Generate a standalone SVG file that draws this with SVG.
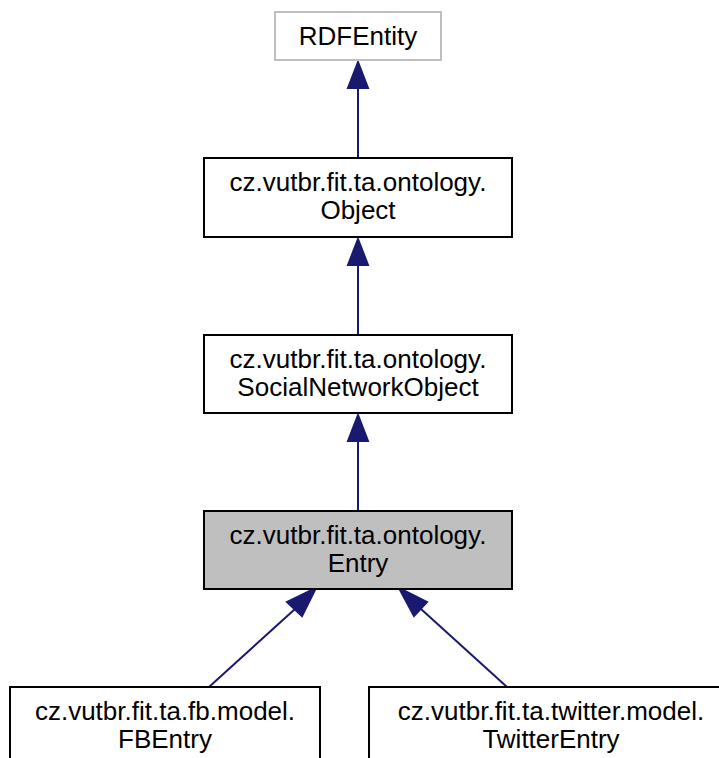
<svg xmlns="http://www.w3.org/2000/svg" width="719" height="758" viewBox="0 0 719 758">
<style>
.box{fill:#fff;stroke:#000;stroke-width:2}
.gbox{fill:#fff;stroke:#bfbfbf;stroke-width:2}
.sel{fill:#bfbfbf;stroke:#000;stroke-width:2}
.lbl{font-family:"Liberation Sans",Arial,sans-serif;font-size:26px;fill:#000;text-anchor:middle}
.edge{stroke:#191970;stroke-width:2;fill:none}
.head{fill:#191970;stroke:#191970;stroke-width:2}
</style>
<rect width="719" height="758" fill="#fff"/>
<g id="connectors">
<path class="edge" d="M358,88 V158"/>
<polygon class="head" points="358,62 348,88 368,88"/>
<path class="edge" d="M358,265 V335"/>
<polygon class="head" points="358,239 348,265 368,265"/>
<path class="edge" d="M358,441 V511"/>
<polygon class="head" points="358,415 348,441 368,441"/>
<path class="edge" d="M295,609 L209,687"/>
<polygon class="head" points="316,588 287,602 302,616"/>
<path class="edge" d="M421,609 L507,687"/>
<polygon class="head" points="399,588 427,602 414,616"/>
</g>
<g id="RDFEntity">
<rect class="gbox" x="275" y="12" width="166" height="48"/>
<text class="lbl" x="358" y="45">RDFEntity</text>
</g>
<g id="Object">
<rect class="box" x="204" y="158" width="308" height="79"/>
<text class="lbl" x="358" y="191">cz.vutbr.fit.ta.ontology.</text>
<text class="lbl" x="358" y="219">Object</text>
</g>
<g id="SocialNetworkObject">
<rect class="box" x="204" y="335" width="308" height="78"/>
<text class="lbl" x="358" y="368">cz.vutbr.fit.ta.ontology.</text>
<text class="lbl" x="358" y="396">SocialNetworkObject</text>
</g>
<g id="Entry">
<rect class="sel" x="204" y="511" width="308" height="78"/>
<text class="lbl" x="358" y="544">cz.vutbr.fit.ta.ontology.</text>
<text class="lbl" x="358" y="572">Entry</text>
</g>
<g id="FBEntry">
<rect class="box" x="10" y="687" width="310" height="90"/>
<text class="lbl" x="165" y="720">cz.vutbr.fit.ta.fb.model.</text>
<text class="lbl" x="165" y="748">FBEntry</text>
</g>
<g id="TwitterEntry">
<rect class="box" x="369" y="687" width="364" height="90"/>
<text class="lbl" x="551" y="720">cz.vutbr.fit.ta.twitter.model.</text>
<text class="lbl" x="551" y="748">TwitterEntry</text>
</g>
</svg>
